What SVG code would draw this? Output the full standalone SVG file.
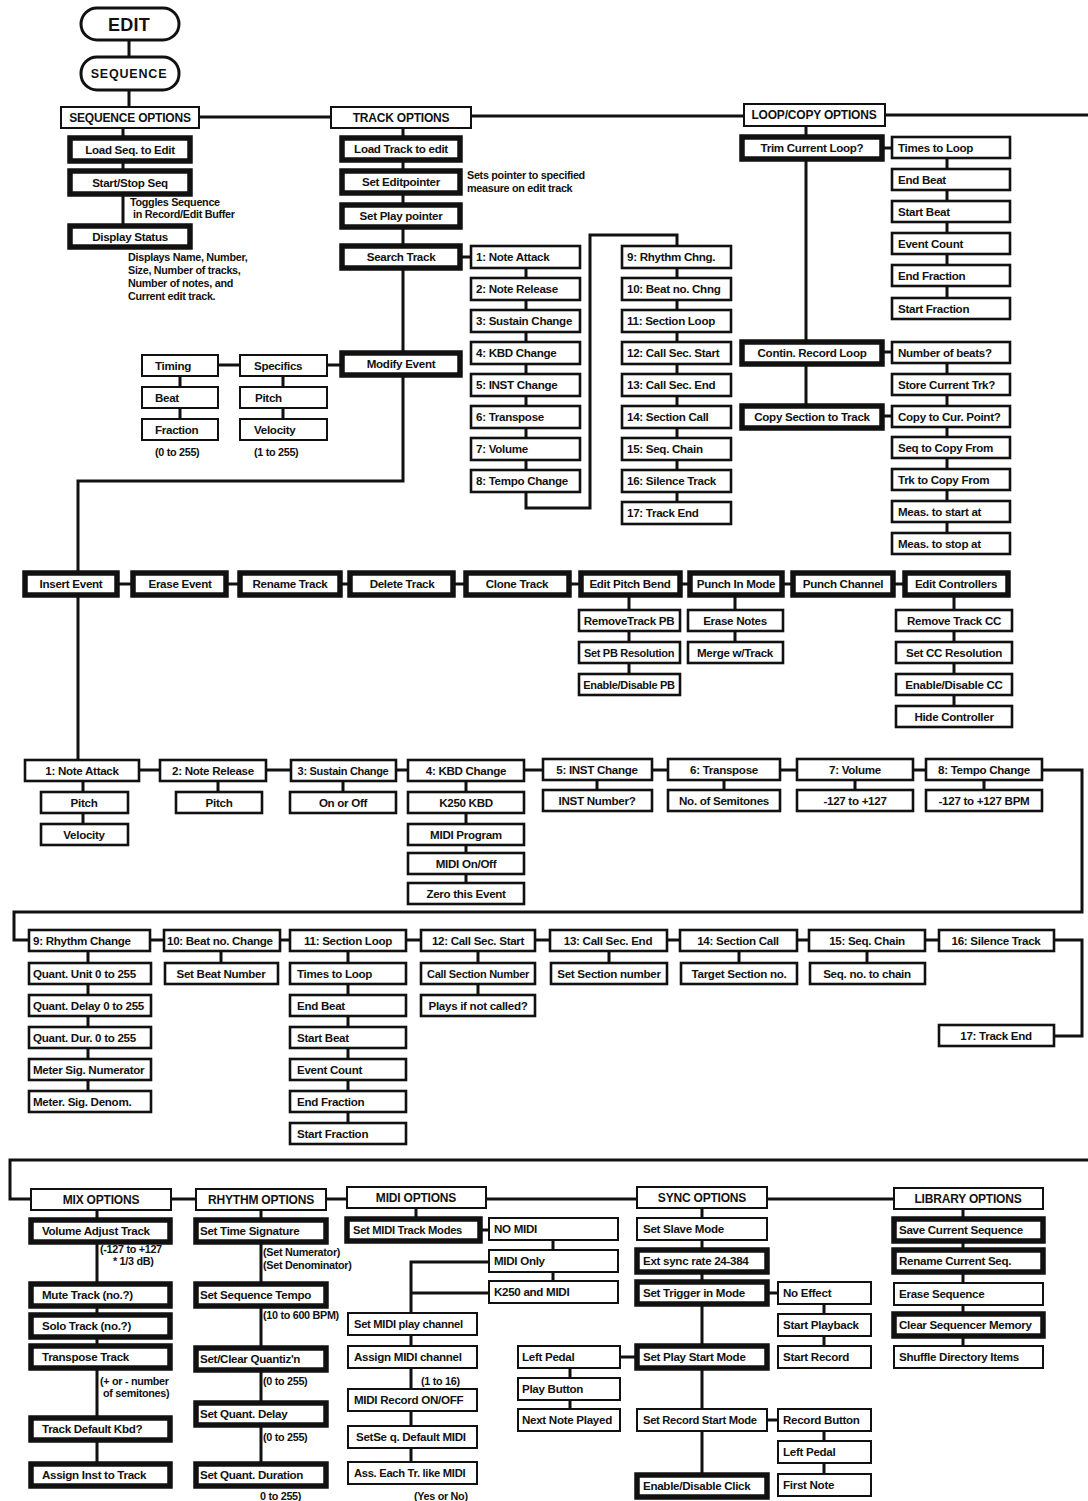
<svg xmlns="http://www.w3.org/2000/svg" width="1088" height="1501" viewBox="0 0 1088 1501">
<style>
rect{fill:#fff;stroke:#111}
.b{stroke-width:2}
.m{stroke-width:2.6}
.k{stroke-width:5.5}
.p{stroke-width:3}
.ln path{fill:none;stroke:#111;stroke-width:3}
text{font-family:"Liberation Sans",Arial,sans-serif;font-weight:bold;font-size:11.6px;fill:#111;letter-spacing:-0.3px}
.c{text-anchor:middle}
.h{font-size:12px;letter-spacing:-0.2px}
.s{font-size:10.8px;letter-spacing:-0.3px}
</style>
<rect x="0" y="0" width="1088" height="1501" style="fill:#fff;stroke:none"/>
<g class="ln" id="connectors">
<path d="M129 40V57M129 90V107M199 117H331M471 116H744M885 115H1088M123 128V226"/>
<path d="M403 128V481H78V760M460 257H471M526 268V508H590V235H677V502"/>
<path d="M218 365H240M327 365H342M180 376V419M283 376V419"/>
<path d="M806 126V406M882 148H892M947 158V298M882 352H892M947 363V533M882 416H892"/>
<path d="M114 584H905M629 595V674M735 595V642M954 595V706"/>
<path d="M25 770H926M1042 770H1082V912H14V940H29M83 781V824M218 781V792M343 781V792M466 781V883M597 780V790M724 780V790M855 780V790M984 780V790"/>
<path d="M29 940H1054M1054 940H1082V1036H1054M88 951V1091M221 951V963M348 951V1123M478 951V995M609 951V963M739 951V963M867 951V963"/>
<path d="M1088 1160H10V1199H31M31 1199H1043M97 1210V1464M261 1210V1464M416 1208V1219M480 1230H489M553 1240V1281M489 1262H411V1462M411 1293H489M570 1368V1409M620 1357H637M702 1208V1475M767 1293H778M824 1303V1346M767 1420H778M824 1431V1474M963 1209V1346"/>
</g>
<g id="edit"><rect class="p" x="81" y="8" width="98" height="32" rx="16"/><text x="129" y="31" class="c" style="font-size:18px;letter-spacing:0.3px">EDIT</text></g>
<g id="sequence"><rect class="p" x="81" y="57" width="98" height="33" rx="16"/><text x="129" y="78" class="c" style="font-size:12.5px;letter-spacing:0.8px">SEQUENCE</text></g>
<g id="seq-options"><rect class="b" x="61" y="107" width="138" height="21"/><text x="130" y="122" class="c h">SEQUENCE OPTIONS</text></g>
<g id="load-seq"><rect class="k" x="70" y="138" width="120" height="23"/><text x="130" y="154" class="c">Load Seq. to Edit</text></g>
<g id="start-stop"><rect class="k" x="70" y="171" width="120" height="23"/><text x="130" y="187" class="c">Start/Stop Seq</text></g>
<g id="toggles-note"><text x="130" y="206" class="s">Toggles Sequence</text><text x="133" y="218" class="s">in Record/Edit Buffer</text></g>
<g id="display-status"><rect class="k" x="70" y="226" width="120" height="21"/><text x="130" y="241" class="c">Display Status</text></g>
<g id="display-note"><text x="128" y="261" class="s">Displays Name, Number,</text><text x="128" y="274" class="s">Size, Number of tracks,</text><text x="128" y="287" class="s">Number of notes, and</text><text x="128" y="300" class="s">Current edit track.</text></g>
<g id="track-options"><rect class="b" x="331" y="107" width="140" height="21"/><text x="401" y="122" class="c h">TRACK OPTIONS</text></g>
<g id="load-track"><rect class="k" x="342" y="138" width="118" height="22"/><text x="401" y="153" class="c">Load Track to edit</text></g>
<g id="set-editpointer"><rect class="k" x="342" y="171" width="118" height="22"/><text x="401" y="186" class="c">Set  Editpointer</text></g>
<g id="editpointer-note"><text x="467" y="179" class="s">Sets pointer to specified</text><text x="467" y="192" class="s">measure on edit track</text></g>
<g id="set-play-pointer"><rect class="k" x="342" y="205" width="118" height="22"/><text x="401" y="220" class="c">Set Play pointer</text></g>
<g id="search-track"><rect class="k" x="342" y="246" width="118" height="22"/><text x="401" y="261" class="c">Search Track</text></g>
<g id="modify-event"><rect class="k" x="342" y="353" width="118" height="22"/><text x="401" y="368" class="c">Modify Event</text></g>
<g id="s1"><rect class="m" x="471" y="246" width="109" height="22"/><text x="476" y="261">1: Note Attack</text></g>
<g id="s2"><rect class="m" x="471" y="278" width="109" height="22"/><text x="476" y="293">2: Note Release</text></g>
<g id="s3"><rect class="m" x="471" y="310" width="109" height="22"/><text x="476" y="325">3: Sustain Change</text></g>
<g id="s4"><rect class="m" x="471" y="342" width="109" height="22"/><text x="476" y="357">4: KBD Change</text></g>
<g id="s5"><rect class="m" x="471" y="374" width="109" height="22"/><text x="476" y="389">5: INST Change</text></g>
<g id="s6"><rect class="m" x="471" y="406" width="109" height="22"/><text x="476" y="421">6: Transpose</text></g>
<g id="s7"><rect class="m" x="471" y="438" width="109" height="22"/><text x="476" y="453">7: Volume</text></g>
<g id="s8"><rect class="m" x="471" y="470" width="109" height="22"/><text x="476" y="485">8: Tempo Change</text></g>
<g id="s9"><rect class="m" x="622" y="246" width="109" height="22"/><text x="627" y="261">9: Rhythm Chng.</text></g>
<g id="s10"><rect class="m" x="622" y="278" width="109" height="22"/><text x="627" y="293">10: Beat no. Chng</text></g>
<g id="s11"><rect class="m" x="622" y="310" width="109" height="22"/><text x="627" y="325">11: Section Loop</text></g>
<g id="s12"><rect class="m" x="622" y="342" width="109" height="22"/><text x="627" y="357">12: Call Sec. Start</text></g>
<g id="s13"><rect class="m" x="622" y="374" width="109" height="22"/><text x="627" y="389">13: Call Sec. End</text></g>
<g id="s14"><rect class="m" x="622" y="406" width="109" height="22"/><text x="627" y="421">14: Section Call</text></g>
<g id="s15"><rect class="m" x="622" y="438" width="109" height="22"/><text x="627" y="453">15: Seq. Chain</text></g>
<g id="s16"><rect class="m" x="622" y="470" width="109" height="22"/><text x="627" y="485">16: Silence Track</text></g>
<g id="s17"><rect class="m" x="622" y="502" width="109" height="22"/><text x="627" y="517">17: Track End</text></g>
<g id="timing"><rect class="b" x="142" y="355" width="76" height="21"/><text x="155" y="370">Timing</text></g>
<g id="beat"><rect class="b" x="142" y="387" width="76" height="21"/><text x="155" y="402">Beat</text></g>
<g id="fraction"><rect class="b" x="142" y="419" width="76" height="21"/><text x="155" y="434">Fraction</text></g>
<g id="specifics"><rect class="b" x="240" y="355" width="87" height="21"/><text x="254" y="370">Specifics</text></g>
<g id="pitch0"><rect class="b" x="240" y="387" width="87" height="21"/><text x="255" y="402">Pitch</text></g>
<g id="velocity0"><rect class="b" x="240" y="419" width="87" height="21"/><text x="254" y="434">Velocity</text></g>
<g id="range-notes"><text x="155" y="456" class="s">(0 to 255)</text><text x="254" y="456" class="s">(1 to 255)</text></g>
<g id="loop-options"><rect class="b" x="744" y="104" width="141" height="22"/><text x="814" y="119" class="c h">LOOP/COPY OPTIONS</text></g>
<g id="trim"><rect class="k" x="742" y="137" width="140" height="22"/><text x="812" y="152" class="c">Trim Current Loop?</text></g>
<g id="contin"><rect class="k" x="742" y="342" width="140" height="22"/><text x="812" y="357" class="c">Contin. Record Loop</text></g>
<g id="copy-section"><rect class="k" x="742" y="406" width="140" height="22"/><text x="812" y="421" class="c">Copy Section to Track</text></g>
<g id="l1"><rect class="m" x="892" y="137" width="118" height="21"/><text x="898" y="152">Times to Loop</text></g>
<g id="l2"><rect class="m" x="892" y="169" width="118" height="21"/><text x="898" y="184">End Beat</text></g>
<g id="l3"><rect class="m" x="892" y="201" width="118" height="21"/><text x="898" y="216">Start Beat</text></g>
<g id="l4"><rect class="m" x="892" y="233" width="118" height="21"/><text x="898" y="248">Event Count</text></g>
<g id="l5"><rect class="m" x="892" y="265" width="118" height="21"/><text x="898" y="280">End Fraction</text></g>
<g id="l6"><rect class="m" x="892" y="298" width="118" height="21"/><text x="898" y="313">Start Fraction</text></g>
<g id="l7"><rect class="m" x="892" y="342" width="118" height="21"/><text x="898" y="357">Number of beats?</text></g>
<g id="l8"><rect class="m" x="892" y="374" width="118" height="21"/><text x="898" y="389">Store Current Trk?</text></g>
<g id="l9"><rect class="m" x="892" y="406" width="118" height="21"/><text x="898" y="421">Copy to Cur. Point?</text></g>
<g id="l10"><rect class="m" x="892" y="437" width="118" height="21"/><text x="898" y="452">Seq to Copy From</text></g>
<g id="l11"><rect class="m" x="892" y="469" width="118" height="21"/><text x="898" y="484">Trk to Copy From</text></g>
<g id="l12"><rect class="m" x="892" y="501" width="118" height="21"/><text x="898" y="516">Meas. to start at</text></g>
<g id="l13"><rect class="m" x="892" y="533" width="118" height="21"/><text x="898" y="548">Meas. to stop at</text></g>
<g id="insert-event"><rect class="k" x="25" y="573" width="92" height="22"/><text x="71" y="588" class="c">Insert Event</text></g>
<g id="erase-event"><rect class="k" x="133" y="573" width="93" height="22"/><text x="180" y="588" class="c">Erase Event</text></g>
<g id="rename-track"><rect class="k" x="240" y="573" width="100" height="22"/><text x="290" y="588" class="c">Rename Track</text></g>
<g id="delete-track"><rect class="k" x="350" y="573" width="103" height="22"/><text x="402" y="588" class="c">Delete Track</text></g>
<g id="clone-track"><rect class="k" x="466" y="573" width="103" height="22"/><text x="517" y="588" class="c">Clone Track</text></g>
<g id="edit-pitch-bend"><rect class="k" x="581" y="573" width="99" height="22"/><text x="630" y="588" class="c">Edit Pitch Bend</text></g>
<g id="punch-in"><rect class="k" x="690" y="573" width="92" height="22"/><text x="736" y="588" class="c">Punch In Mode</text></g>
<g id="punch-channel"><rect class="k" x="793" y="573" width="100" height="22"/><text x="843" y="588" class="c">Punch Channel</text></g>
<g id="edit-controllers"><rect class="k" x="905" y="573" width="103" height="22"/><text x="956" y="588" class="c">Edit Controllers</text></g>
<g id="pb1"><rect class="m" x="579" y="610" width="101" height="21"/><text x="629" y="625" class="c">RemoveTrack PB</text></g>
<g id="pb2"><rect class="m" x="579" y="642" width="101" height="21"/><text x="629" y="657" class="c" style="font-size:11px">Set PB Resolution</text></g>
<g id="pb3"><rect class="m" x="579" y="674" width="101" height="21"/><text x="629" y="689" class="c" style="font-size:11px">Enable/Disable PB</text></g>
<g id="pi1"><rect class="m" x="688" y="610" width="95" height="21"/><text x="735" y="625" class="c">Erase Notes</text></g>
<g id="pi2"><rect class="m" x="688" y="642" width="95" height="21"/><text x="735" y="657" class="c">Merge w/Track</text></g>
<g id="cc1"><rect class="m" x="896" y="610" width="116" height="21"/><text x="954" y="625" class="c">Remove Track CC</text></g>
<g id="cc2"><rect class="m" x="896" y="642" width="116" height="21"/><text x="954" y="657" class="c">Set CC Resolution</text></g>
<g id="cc3"><rect class="m" x="896" y="674" width="116" height="21"/><text x="954" y="689" class="c">Enable/Disable CC</text></g>
<g id="cc4"><rect class="m" x="896" y="706" width="116" height="21"/><text x="954" y="721" class="c">Hide Controller</text></g>
<g id="e1"><rect class="m" x="25" y="760" width="114" height="21"/><text x="82" y="775" class="c">1: Note Attack</text></g>
<g id="e2"><rect class="m" x="160" y="760" width="106" height="21"/><text x="213" y="775" class="c">2: Note Release</text></g>
<g id="e3"><rect class="m" x="291" y="760" width="105" height="21"/><text x="343" y="775" class="c" style="font-size:11px">3: Sustain Change</text></g>
<g id="e4"><rect class="m" x="408" y="760" width="116" height="21"/><text x="466" y="775" class="c">4: KBD Change</text></g>
<g id="e5"><rect class="m" x="543" y="759" width="109" height="21"/><text x="597" y="774" class="c">5: INST Change</text></g>
<g id="e6"><rect class="m" x="668" y="759" width="112" height="21"/><text x="724" y="774" class="c">6: Transpose</text></g>
<g id="e7"><rect class="m" x="797" y="759" width="116" height="21"/><text x="855" y="774" class="c">7: Volume</text></g>
<g id="e8"><rect class="m" x="926" y="759" width="116" height="21"/><text x="984" y="774" class="c">8: Tempo Change</text></g>
<g id="e1a"><rect class="m" x="41" y="792" width="87" height="21"/><text x="84" y="807" class="c">Pitch</text></g>
<g id="e1b"><rect class="m" x="41" y="824" width="87" height="21"/><text x="84" y="839" class="c">Velocity</text></g>
<g id="e2a"><rect class="m" x="176" y="792" width="86" height="21"/><text x="219" y="807" class="c">Pitch</text></g>
<g id="e3a"><rect class="m" x="290" y="792" width="106" height="21"/><text x="343" y="807" class="c">On or Off</text></g>
<g id="e4a"><rect class="m" x="408" y="792" width="116" height="21"/><text x="466" y="807" class="c">K250 KBD</text></g>
<g id="e4b"><rect class="m" x="408" y="824" width="116" height="21"/><text x="466" y="839" class="c">MIDI Program</text></g>
<g id="e4c"><rect class="m" x="408" y="853" width="116" height="21"/><text x="466" y="868" class="c">MIDI On/Off</text></g>
<g id="e4d"><rect class="m" x="408" y="883" width="116" height="21"/><text x="466" y="898" class="c">Zero this Event</text></g>
<g id="e5a"><rect class="m" x="543" y="790" width="109" height="21"/><text x="597" y="805" class="c">INST Number?</text></g>
<g id="e6a"><rect class="m" x="668" y="790" width="112" height="21"/><text x="724" y="805" class="c">No. of Semitones</text></g>
<g id="e7a"><rect class="m" x="797" y="790" width="116" height="21"/><text x="855" y="805" class="c">-127 to +127</text></g>
<g id="e8a"><rect class="m" x="926" y="790" width="116" height="21"/><text x="984" y="805" class="c">-127 to +127 BPM</text></g>
<g id="r9"><rect class="m" x="29" y="930" width="121" height="21"/><text x="33" y="945">9: Rhythm Change</text></g>
<g id="r10"><rect class="m" x="164" y="930" width="116" height="21"/><text x="167" y="945">10: Beat no. Change</text></g>
<g id="r11"><rect class="m" x="290" y="930" width="116" height="21"/><text x="348" y="945" class="c">11: Section Loop</text></g>
<g id="r12"><rect class="m" x="421" y="930" width="114" height="21"/><text x="478" y="945" class="c">12: Call Sec. Start</text></g>
<g id="r13"><rect class="m" x="550" y="930" width="117" height="21"/><text x="608" y="945" class="c">13: Call Sec. End</text></g>
<g id="r14"><rect class="m" x="680" y="930" width="117" height="21"/><text x="738" y="945" class="c">14: Section Call</text></g>
<g id="r15"><rect class="m" x="809" y="930" width="116" height="21"/><text x="867" y="945" class="c">15: Seq. Chain</text></g>
<g id="r16"><rect class="m" x="939" y="930" width="115" height="21"/><text x="996" y="945" class="c">16: Silence Track</text></g>
<g id="r17"><rect class="m" x="939" y="1025" width="115" height="21"/><text x="996" y="1040" class="c">17: Track End</text></g>
<g id="r9a"><rect class="m" x="29" y="963" width="122" height="21"/><text x="33" y="978">Quant. Unit 0 to 255</text></g>
<g id="r9b"><rect class="m" x="29" y="995" width="122" height="21"/><text x="33" y="1010">Quant. Delay 0 to 255</text></g>
<g id="r9c"><rect class="m" x="29" y="1027" width="122" height="21"/><text x="33" y="1042">Quant. Dur. 0 to 255</text></g>
<g id="r9d"><rect class="m" x="29" y="1059" width="122" height="21"/><text x="33" y="1074">Meter Sig.  Numerator</text></g>
<g id="r9e"><rect class="m" x="29" y="1091" width="122" height="21"/><text x="33" y="1106">Meter. Sig. Denom.</text></g>
<g id="r10a"><rect class="m" x="165" y="963" width="113" height="21"/><text x="221" y="978" class="c">Set Beat Number</text></g>
<g id="r11a"><rect class="m" x="290" y="963" width="116" height="21"/><text x="297" y="978">Times to Loop</text></g>
<g id="r11b"><rect class="m" x="290" y="995" width="116" height="21"/><text x="297" y="1010">End Beat</text></g>
<g id="r11c"><rect class="m" x="290" y="1027" width="116" height="21"/><text x="297" y="1042">Start Beat</text></g>
<g id="r11d"><rect class="m" x="290" y="1059" width="116" height="21"/><text x="297" y="1074">Event Count</text></g>
<g id="r11e"><rect class="m" x="290" y="1091" width="116" height="21"/><text x="297" y="1106">End Fraction</text></g>
<g id="r11f"><rect class="m" x="290" y="1123" width="116" height="21"/><text x="297" y="1138">Start Fraction</text></g>
<g id="r12a"><rect class="m" x="421" y="963" width="114" height="21"/><text x="478" y="978" class="c" style="font-size:11px">Call Section Number</text></g>
<g id="r12b"><rect class="m" x="421" y="995" width="114" height="21"/><text x="478" y="1010" class="c">Plays if not called?</text></g>
<g id="r13a"><rect class="m" x="551" y="963" width="116" height="21"/><text x="609" y="978" class="c">Set Section number</text></g>
<g id="r14a"><rect class="m" x="681" y="963" width="116" height="21"/><text x="739" y="978" class="c">Target Section no.</text></g>
<g id="r15a"><rect class="m" x="810" y="963" width="115" height="21"/><text x="867" y="978" class="c">Seq. no. to chain</text></g>
<g id="mix-options"><rect class="b" x="31" y="1189" width="140" height="21"/><text x="101" y="1204" class="c h">MIX OPTIONS</text></g>
<g id="rhythm-options"><rect class="b" x="196" y="1189" width="130" height="21"/><text x="261" y="1204" class="c h">RHYTHM OPTIONS</text></g>
<g id="midi-options"><rect class="b" x="347" y="1187" width="139" height="21"/><text x="416" y="1202" class="c h">MIDI OPTIONS</text></g>
<g id="sync-options"><rect class="b" x="637" y="1187" width="130" height="21"/><text x="702" y="1202" class="c h">SYNC OPTIONS</text></g>
<g id="library-options"><rect class="b" x="894" y="1188" width="149" height="21"/><text x="968" y="1203" class="c h">LIBRARY OPTIONS</text></g>
<g id="mx1"><rect class="k" x="31" y="1220" width="139" height="22"/><text x="42" y="1235">Volume Adjust Track</text></g>
<g id="mx1-note"><text x="100" y="1253" class="s">(-127 to +127</text><text x="113" y="1265" class="s">* 1/3 dB)</text></g>
<g id="mx2"><rect class="k" x="31" y="1284" width="139" height="22"/><text x="42" y="1299">Mute Track (no.?)</text></g>
<g id="mx3"><rect class="k" x="31" y="1315" width="139" height="22"/><text x="42" y="1330">Solo Track (no.?)</text></g>
<g id="mx4"><rect class="k" x="31" y="1346" width="139" height="22"/><text x="42" y="1361">Transpose Track</text></g>
<g id="mx4-note"><text x="100" y="1385" class="s">(+ or - number</text><text x="103" y="1397" class="s">of semitones)</text></g>
<g id="mx5"><rect class="k" x="31" y="1418" width="139" height="22"/><text x="42" y="1433">Track Default Kbd?</text></g>
<g id="mx6"><rect class="k" x="31" y="1464" width="139" height="22"/><text x="42" y="1479">Assign Inst to Track</text></g>
<g id="rh1"><rect class="k" x="196" y="1220" width="130" height="22"/><text x="200" y="1235">Set Time Signature</text></g>
<g id="rh1-note"><text x="263" y="1256" class="s">(Set Numerator)</text><text x="263" y="1269" class="s">(Set Denominator)</text></g>
<g id="rh2"><rect class="k" x="196" y="1284" width="130" height="22"/><text x="200" y="1299">Set  Sequence Tempo</text></g>
<g id="rh2-note"><text x="263" y="1319" class="s">(10 to 600 BPM)</text></g>
<g id="rh3"><rect class="k" x="196" y="1348" width="130" height="22"/><text x="200" y="1363">Set/Clear Quantiz'n</text></g>
<g id="rh3-note"><text x="263" y="1385" class="s">(0 to 255)</text></g>
<g id="rh4"><rect class="k" x="196" y="1403" width="130" height="22"/><text x="200" y="1418">Set Quant. Delay</text></g>
<g id="rh4-note"><text x="263" y="1441" class="s">(0 to 255)</text></g>
<g id="rh5"><rect class="k" x="196" y="1464" width="130" height="22"/><text x="200" y="1479">Set Quant. Duration</text></g>
<g id="rh5-note"><text x="260" y="1500" class="s">0 to 255)</text></g>
<g id="md1"><rect class="k" x="347" y="1219" width="133" height="22"/><text x="353" y="1234" style="font-size:11.2px">Set MIDI Track Modes</text></g>
<g id="md-no"><rect class="b" x="489" y="1218" width="129" height="22"/><text x="494" y="1233">NO MIDI</text></g>
<g id="md-only"><rect class="b" x="489" y="1250" width="129" height="22"/><text x="494" y="1265">MIDI Only</text></g>
<g id="md-k250"><rect class="b" x="489" y="1281" width="129" height="22"/><text x="494" y="1296">K250 and MIDI</text></g>
<g id="md2"><rect class="b" x="348" y="1313" width="129" height="22"/><text x="354" y="1328" style="font-size:11.2px">Set MIDI play channel</text></g>
<g id="md3"><rect class="b" x="348" y="1346" width="129" height="22"/><text x="354" y="1361">Assign MIDI channel</text></g>
<g id="md3-note"><text x="421" y="1385" class="s">(1 to 16)</text></g>
<g id="md4"><rect class="b" x="348" y="1389" width="129" height="22"/><text x="354" y="1404">MIDI Record ON/OFF</text></g>
<g id="md5"><rect class="b" x="348" y="1426" width="129" height="22"/><text x="356" y="1441">SetSe q. Default MIDI</text></g>
<g id="md6"><rect class="b" x="348" y="1462" width="129" height="22"/><text x="354" y="1477" style="font-size:11.2px">Ass. Each Tr. like MIDI</text></g>
<g id="md6-note"><text x="414" y="1500" class="s">(Yes or No)</text></g>
<g id="ps1"><rect class="b" x="518" y="1346" width="102" height="22"/><text x="522" y="1361">Left  Pedal</text></g>
<g id="ps2"><rect class="b" x="518" y="1378" width="102" height="22"/><text x="522" y="1393">Play Button</text></g>
<g id="ps3"><rect class="b" x="518" y="1409" width="102" height="22"/><text x="522" y="1424">Next Note Played</text></g>
<g id="sy1"><rect class="b" x="637" y="1218" width="130" height="22"/><text x="643" y="1233">Set Slave Mode</text></g>
<g id="sy2"><rect class="k" x="637" y="1250" width="130" height="22"/><text x="643" y="1265">Ext sync rate  24-384</text></g>
<g id="sy3"><rect class="k" x="637" y="1282" width="130" height="22"/><text x="643" y="1297">Set Trigger in Mode</text></g>
<g id="sy4"><rect class="k" x="637" y="1346" width="130" height="22"/><text x="643" y="1361">Set Play Start Mode</text></g>
<g id="sy5"><rect class="b" x="637" y="1409" width="130" height="22"/><text x="643" y="1424" style="font-size:11.2px">Set Record Start Mode</text></g>
<g id="sy6"><rect class="k" x="637" y="1475" width="130" height="22"/><text x="643" y="1490">Enable/Disable Click</text></g>
<g id="tr1"><rect class="b" x="778" y="1282" width="93" height="22"/><text x="783" y="1297">No Effect</text></g>
<g id="tr2"><rect class="b" x="778" y="1314" width="93" height="22"/><text x="783" y="1329">Start Playback</text></g>
<g id="tr3"><rect class="b" x="778" y="1346" width="93" height="22"/><text x="783" y="1361">Start Record</text></g>
<g id="rs1"><rect class="b" x="778" y="1409" width="93" height="22"/><text x="783" y="1424">Record Button</text></g>
<g id="rs2"><rect class="b" x="778" y="1441" width="93" height="22"/><text x="783" y="1456">Left Pedal</text></g>
<g id="rs3"><rect class="b" x="778" y="1474" width="93" height="22"/><text x="783" y="1489">First Note</text></g>
<g id="lb1"><rect class="k" x="894" y="1219" width="149" height="22"/><text x="899" y="1234">Save Current Sequence</text></g>
<g id="lb2"><rect class="k" x="894" y="1250" width="149" height="22"/><text x="899" y="1265">Rename Current Seq.</text></g>
<g id="lb3"><rect class="b" x="894" y="1283" width="149" height="22"/><text x="899" y="1298">Erase Sequence</text></g>
<g id="lb4"><rect class="k" x="894" y="1314" width="149" height="22"/><text x="899" y="1329">Clear Sequencer Memory</text></g>
<g id="lb5"><rect class="b" x="894" y="1346" width="149" height="22"/><text x="899" y="1361">Shuffle Directory Items</text></g>
</svg>
